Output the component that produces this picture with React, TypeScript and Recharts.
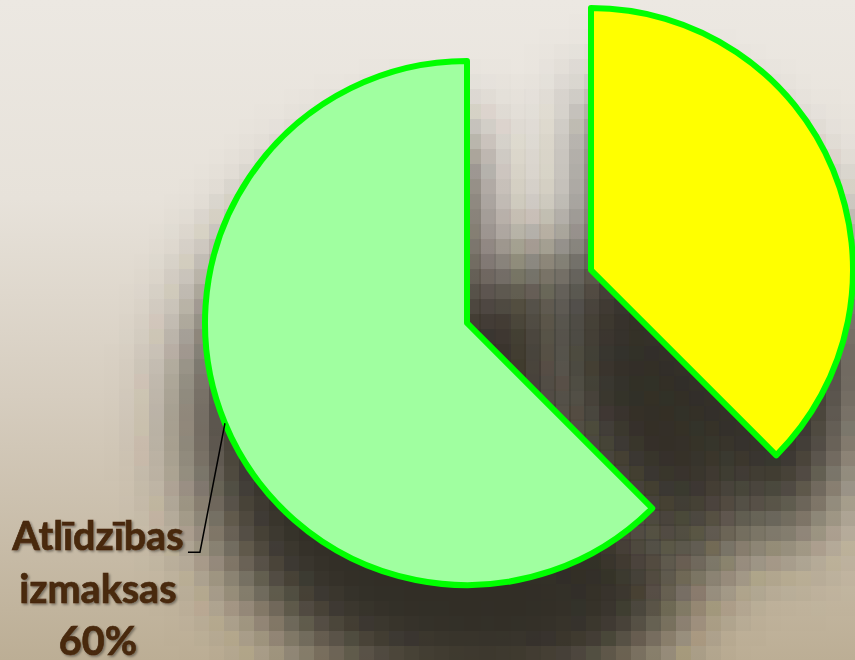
import { PieChart, Pie, Cell } from "recharts";

const names = ["Atlīdzības izmaksas", "Citas izmaksas"];
const values = [62.5, 37.5];
const percentLabels = ["60%", "40%"];
const fills = ["#a0ffa0", "#ffff00"];

const data = names.map((name, i) => ({ name, value: values[i] }));

const RAD = Math.PI / 180;
const SHADOW = "#322d25";

// only the green slice shows its label (the yellow one falls outside the frame)
function renderLabel(props: any) {
  const { cx, cy, midAngle, outerRadius, index } = props;
  if (index !== 0) return null;
  const sx = cx + outerRadius * Math.cos(-midAngle * RAD);
  const sy = cy + outerRadius * Math.sin(-midAngle * RAD);
  const ex = sx - 25;
  const ey = sy + 129;
  const words = names[0].split(" ");
  const tx = sx - 127;
  return (
    <g>
      <polyline
        points={`${sx},${sy} ${ex},${ey} ${ex - 12},${ey}`}
        fill="none"
        stroke="#000"
        strokeWidth={1.5}
      />
      <text
        x={tx}
        y={sy + 127}
        textAnchor="middle"
        fill="#48290c"
        stroke="#48290c"
        strokeWidth={0.7}
        fontFamily="Lato, sans-serif"
        fontWeight={700}
        fontSize={39.5}
        filter="url(#txtShadow)"
      >
        <tspan x={tx} dy={0}>{words[0]}</tspan>
        <tspan x={tx} dy={52.5}>{words[1]}</tspan>
        <tspan x={tx} dy={52.5}>{percentLabels[0]}</tspan>
      </text>
    </g>
  );
}

export default function App() {
  const main = { cx: 467, cy: 323, r: 262 };
  const explode = { dx: 124, dy: -53 };
  const shadow = { dx: 5, dy: 95 };
  // soft fill under the gap between the two slices
  const gapShadow = { cx: 562, cy: 450, r: 190 };

  const shadowCells = (show: (i: number) => boolean) =>
    data.map((_, i) =>
      show(i) ? (
        <Cell key={i} fill={SHADOW} filter="url(#shadowFx)" />
      ) : (
        <Cell key={i} fill="none" />
      )
    );

  return (
    <div
      style={{
        position: "fixed",
        left: 0,
        top: 0,
        width: 855,
        height: 660,
        background:
          "linear-gradient(180deg, #ece8e2 0%, #e7e2da 30%, #d6cdbf 60%, #bcae95 100%)",
      }}
    >
      <PieChart width={855} height={660} margin={{ top: 0, right: 0, bottom: 0, left: 0 }}>
        <defs>
          {/* blurred, then blocky, like the reference's low-res shadow */}
          <filter
            id="shadowFx"
            filterUnits="userSpaceOnUse"
            x="0"
            y="0"
            width="855"
            height="660"
          >
            <feGaussianBlur in="SourceGraphic" stdDeviation="36" result="b" />
            <feFlood x="7" y="7" width="1" height="1" floodColor="#000" result="dot" />
            <feComposite in="dot" in2="dot" x="0" y="0" width="15" height="15" result="cell" />
            <feTile in="cell" result="grid" />
            <feComposite in="b" in2="grid" operator="in" result="pts" />
            <feMorphology in="pts" operator="dilate" radius="7.5" />
          </filter>
          <filter id="txtShadow" x="-10%" y="-10%" width="120%" height="130%">
            <feDropShadow dx="1.5" dy="1.5" stdDeviation="1.2" floodColor="#000" floodOpacity="0.4" />
          </filter>
        </defs>

        {/* drop shadows */}
        <Pie
          data={data}
          dataKey="value"
          cx={gapShadow.cx}
          cy={gapShadow.cy}
          outerRadius={gapShadow.r}
          startAngle={90}
          endAngle={450}
          isAnimationActive={false}
          stroke="none"
        >
          {shadowCells(() => true)}
        </Pie>
        <Pie
          data={data}
          dataKey="value"
          cx={main.cx + shadow.dx}
          cy={main.cy + shadow.dy}
          outerRadius={280}
          startAngle={90}
          endAngle={450}
          isAnimationActive={false}
          stroke="none"
        >
          {shadowCells((i) => i === 0)}
        </Pie>
        <Pie
          data={data}
          dataKey="value"
          cx={main.cx + explode.dx + shadow.dx}
          cy={main.cy + explode.dy + shadow.dy}
          outerRadius={265}
          startAngle={90}
          endAngle={450}
          isAnimationActive={false}
          stroke="none"
        >
          {shadowCells((i) => i === 1)}
        </Pie>

        {/* green slice */}
        <Pie
          data={data}
          dataKey="value"
          cx={main.cx}
          cy={main.cy}
          outerRadius={main.r}
          startAngle={90}
          endAngle={450}
          isAnimationActive={false}
          label={renderLabel}
          labelLine={false}
        >
          {data.map((_, i) => (
            <Cell
              key={i}
              fill={i === 0 ? fills[0] : "none"}
              stroke={i === 0 ? "#00ff00" : "none"}
              strokeWidth={6}
              strokeLinejoin="round"
            />
          ))}
        </Pie>

        {/* exploded yellow slice */}
        <Pie
          data={data}
          dataKey="value"
          cx={main.cx + explode.dx}
          cy={main.cy + explode.dy}
          outerRadius={main.r}
          startAngle={90}
          endAngle={450}
          isAnimationActive={false}
        >
          {data.map((_, i) => (
            <Cell
              key={i}
              fill={i === 1 ? fills[1] : "none"}
              stroke={i === 1 ? "#00ff00" : "none"}
              strokeWidth={6}
              strokeLinejoin="round"
            />
          ))}
        </Pie>
      </PieChart>
    </div>
  );
}
